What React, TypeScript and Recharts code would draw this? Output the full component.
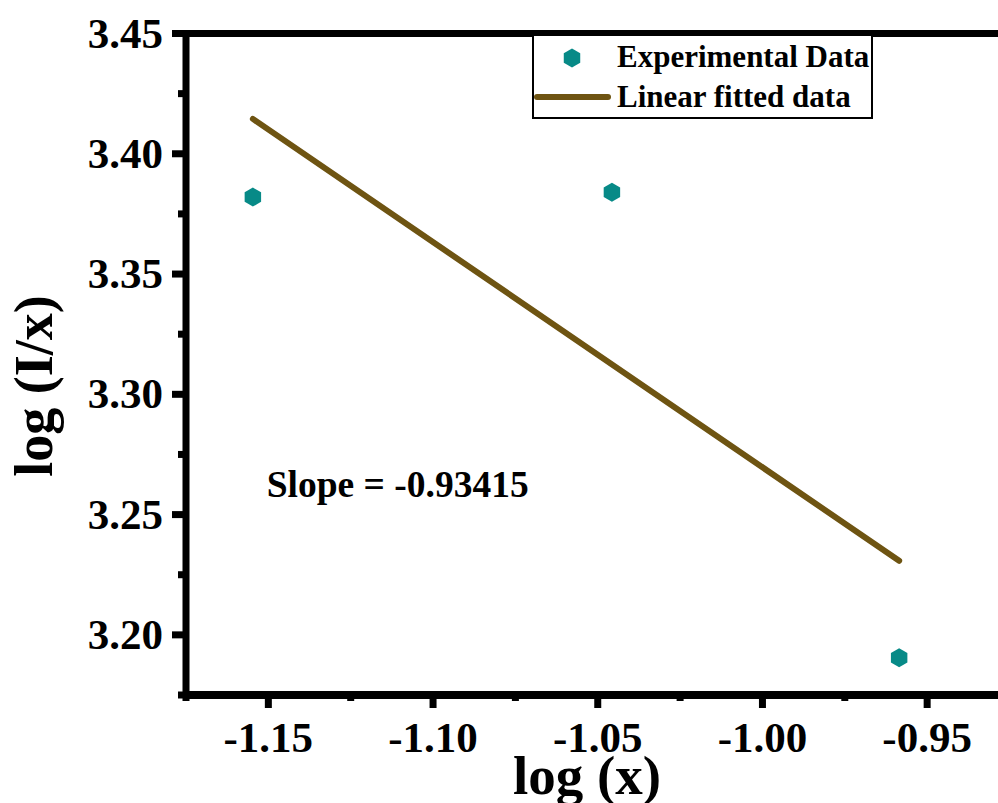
import React from 'react'
import {
  ScatterChart,
  Scatter,
  XAxis,
  YAxis,
  Legend,
  ReferenceLine,
  ReferenceDot,
} from 'recharts'

// values
const expX = [-1.1547, -1.0457, -0.9585]
const expY = [3.382, 3.384, 3.1905]
const fitX = [-1.1547, -0.9585]
const fitY = [3.4145, 3.2308]

const xMajor = [-1.15, -1.1, -1.05, -1.0, -0.95]
const xMinor = [-1.175, -1.125, -1.075, -1.025, -0.975, -0.925]
const yMajor = [3.2, 3.25, 3.3, 3.35, 3.4, 3.45]
const yMinor = [3.175, 3.225, 3.275, 3.325, 3.375, 3.425]

const slopeText = 'Slope = -0.93415'
const seriesNames = ['Experimental Data', 'Linear fitted data']

const expData = expX.map((x, i) => ({ x, y: expY[i] }))
const fitData = fitX.map((x, i) => ({ x, y: fitY[i] }))

const TEAL = '#078a87'
const BROWN = '#6e5412'
const FONT = '"Liberation Serif", "Times New Roman", serif'

const hexPoints = (cx: number, cy: number, r: number) =>
  [-90, -30, 30, 90, 150, 210]
    .map((a) => {
      const t = (a * Math.PI) / 180
      return `${cx + r * Math.cos(t)},${cy + r * Math.sin(t)}`
    })
    .join(' ')

const Hexagon = (props: any) => {
  const { cx, cy } = props
  return <polygon points={hexPoints(cx, cy, 9.5)} fill={TEAL} />
}

const XTick = (props: any) => {
  const { x, y, payload } = props
  const major = xMajor.includes(payload.value)
  return (
    <g>
      <line x1={x} x2={x} y1={y} y2={y + (major ? 13 : 6)} stroke="#000" strokeWidth={7} />
      {major && (
        <text
          x={x}
          y={y + 57}
          textAnchor="middle"
          fontFamily={FONT}
          fontWeight="bold"
          fontSize={43}
          fill="#000"
        >
          {payload.value.toFixed(2)}
        </text>
      )}
    </g>
  )
}

const YTick = (props: any) => {
  const { x, y, payload } = props
  const major = yMajor.includes(payload.value)
  return (
    <g>
      <line x1={x} x2={x - (major ? 14 : 8)} y1={y} y2={y} stroke="#000" strokeWidth={7} />
      {major && (
        <text
          x={x - 23}
          y={y + 14}
          textAnchor="end"
          fontFamily={FONT}
          fontWeight="bold"
          fontSize={43}
          fill="#000"
        >
          {payload.value.toFixed(2)}
        </text>
      )}
    </g>
  )
}

const LegendBox = () => (
  <div
    style={{
      width: 341,
      height: 83,
      boxSizing: 'border-box',
      border: '2px solid #000',
      borderTop: 'none',
      background: '#fff',
    }}
  >
    <svg width={339} height={81} style={{ display: 'block' }}>
      <polygon points={hexPoints(38, 22, 9.5)} fill={TEAL} />
      <text x={83} y={31} fontFamily={FONT} fontWeight="bold" fontSize={31} fill="#000">
        {seriesNames[0]}
      </text>
      <line x1={3} x2={74} y1={61} y2={61} stroke={BROWN} strokeWidth={6} strokeLinecap="round" />
      <text x={83} y={71} fontFamily={FONT} fontWeight="bold" fontSize={31} fill="#000">
        {seriesNames[1]}
      </text>
    </svg>
  </div>
)

export default function App() {
  return (
    <div
      style={{
        position: 'absolute',
        left: 0,
        top: 0,
        width: 998,
        height: 803,
        overflow: 'hidden',
        background: '#fff',
      }}
    >
      <ScatterChart
        width={1010}
        height={803}
        margin={{ top: 33.5, right: 0.5, left: 0, bottom: 0 }}
      >
        <XAxis
          type="number"
          dataKey="x"
          domain={[-1.175, -0.925]}
          ticks={[...xMinor, ...xMajor].sort((a, b) => a - b)}
          interval={0}
          tick={<XTick />}
          tickLine={false}
          tickSize={0}
          tickMargin={0}
          height={108}
          axisLine={{ stroke: '#000', strokeWidth: 8 }}
          label={() => (
            <text
              x={587}
              y={794}
              textAnchor="middle"
              fontFamily={FONT}
              fontWeight="bold"
              fontSize={55}
              fill="#000"
            >
              log (x)
            </text>
          )}
        />
        <YAxis
          type="number"
          dataKey="y"
          domain={[3.175, 3.45]}
          ticks={[...yMinor, ...yMajor].sort((a, b) => a - b)}
          interval={0}
          tick={<YTick />}
          tickLine={false}
          tickSize={0}
          tickMargin={0}
          width={186}
          axisLine={{ stroke: '#000', strokeWidth: 7 }}
          label={() => (
            <text
              x={52}
              y={386}
              transform="rotate(-90 52 386)"
              textAnchor="middle"
              fontFamily={FONT}
              fontWeight="bold"
              fontSize={54}
              fill="#000"
            >
              log (I/x)
            </text>
          )}
        />
        <ReferenceLine y={3.45} stroke="#000" strokeWidth={7} />
        <Scatter
          name={seriesNames[1]}
          data={fitData}
          line={{ stroke: BROWN, strokeWidth: 6, strokeLinecap: 'round' }}
          shape={() => <g />}
          isAnimationActive={false}
        />
        <Scatter
          name={seriesNames[0]}
          data={expData}
          shape={<Hexagon />}
          fill={TEAL}
          isAnimationActive={false}
        />
        <ReferenceDot
          x={-1.1505}
          y={3.2574}
          r={0}
          shape={(p: any) => (
            <text
              x={p.cx}
              y={p.cy}
              fontFamily={FONT}
              fontWeight="bold"
              fontSize={37.5}
              fill="#000"
            >
              {slopeText}
            </text>
          )}
        />
        <Legend
          layout="horizontal"
          verticalAlign="middle"
          align="center"
          content={() => <LegendBox />}
          wrapperStyle={{ left: 532, top: 36, width: 341, height: 83 }}
        />
      </ScatterChart>
    </div>
  )
}
